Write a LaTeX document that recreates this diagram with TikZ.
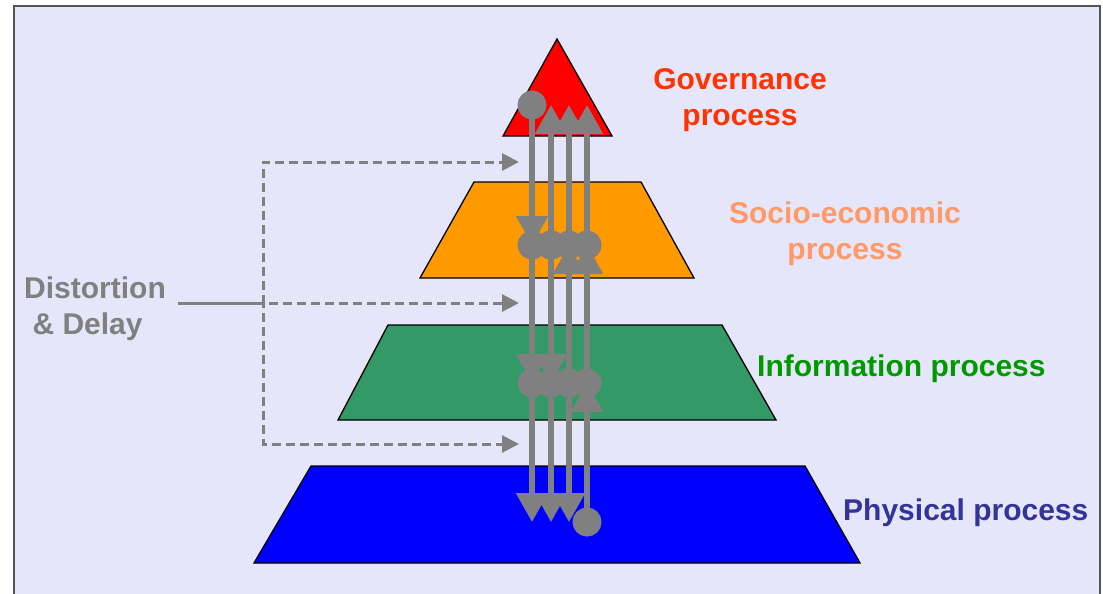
\documentclass[tikz,border=0pt]{standalone}
\usepackage{fontspec}
\setmainfont{Liberation Sans}
\usetikzlibrary{arrows.meta}

\definecolor{panel}{RGB}{230,230,250}
\definecolor{framecol}{RGB}{85,85,85}
\definecolor{linkgray}{RGB}{128,128,128}
\definecolor{govred}{RGB}{255,0,0}
\definecolor{socorange}{RGB}{255,153,0}
\definecolor{infogreen}{RGB}{51,153,102}
\definecolor{physblue}{RGB}{0,0,255}
\definecolor{govtext}{RGB}{255,51,0}
\definecolor{soctext}{RGB}{255,153,102}
\definecolor{infotext}{RGB}{0,153,0}
\definecolor{phystext}{RGB}{51,51,153}

\begin{document}
\begin{tikzpicture}[x=1pt,y=-1pt,
  level/.style={draw=black,line width=1.3pt,line join=miter},
  flow/.style={draw=linkgray,line width=5.5pt,shorten <=-14.5pt,
    {Circle[length=29pt,fill=linkgray]}-{Triangle[width=31pt,length=29pt,fill=linkgray]}},
  delay/.style={draw=linkgray,line width=3pt,dash pattern=on 9pt off 5pt,
    -{Triangle[width=17pt,length=17pt]}},
  label/.style={font=\fontsize{30}{36}\selectfont\bfseries,inner sep=0pt}]

\clip (0,0) rectangle (1103,594);
\fill[white] (0,0) rectangle (1103,594);
\draw[framecol,line width=2pt,fill=panel] (14,6) rectangle (1100,620);

% the four process levels
\draw[level,fill=govred] (557,39) -- (612,136) -- (503,136) -- cycle;
\draw[level,fill=socorange] (474,182) -- (641,182) -- (694,278) -- (420,278) -- cycle;
\draw[level,fill=infogreen] (388,325) -- (722,325) -- (776,420) -- (338,420) -- cycle;
\draw[level,fill=physblue] (311,466) -- (805,466) -- (860,563) -- (254,563) -- cycle;

% connection ports on each level
\foreach \x [count=\i] in {532,551,569,587} {
  \coordinate (gov-\i) at (\x,105);
  \coordinate (soc-\i) at (\x,245);
  \coordinate (inf-\i) at (\x,383);
  \coordinate (phy-\i) at (\x,522);
}

% flows between the levels
\draw[flow] (gov-1) -- (soc-1);
\draw[flow] (soc-1) -- (inf-1);
\draw[flow] (inf-1) -- (phy-1);
\draw[flow] (soc-2) -- (gov-2);
\draw[flow] (soc-2) -- (inf-2);
\draw[flow] (inf-2) -- (phy-2);
\draw[flow] (soc-3) -- (gov-3);
\draw[flow] (inf-3) -- (soc-3);
\draw[flow] (inf-3) -- (phy-3);
\draw[flow] (soc-4) -- (gov-4);
\draw[flow] (inf-4) -- (soc-4);
\draw[flow] (phy-4) -- (inf-4);

% labels (multi-line labels sit on the baseline of their last line)
\node[label,text=govtext,align=center,anchor=base] (govlbl) at (740,125) {Governance\\process};
\node[label,text=soctext,align=center,anchor=base] (soclbl) at (845,259) {Socio-economic\\process};
\node[label,text=infotext,anchor=base west] (inflbl) at (757,376) {Information process};
\node[label,text=phystext,anchor=base west] (phylbl) at (843,520) {Physical process};
\node[label,text=linkgray,align=left,anchor=base west] (dlylbl) at (24,334) {Distortion\\~\& Delay};

% distortion and delay between the levels
\coordinate (dd) at (178,303);
\coordinate (split) at (263,303);
\coordinate (to-soc) at (519,162);
\coordinate (to-inf) at (519,303);
\coordinate (to-phy) at (519,444);
\draw[delay,dash phase=0pt] (dd) -- (split) |- (to-soc);
\draw[delay,dash phase=7pt] (dd) -- (to-inf);
\draw[delay,dash phase=3pt] (dd) -- (split) |- (to-phy);
\end{tikzpicture}
\end{document}
